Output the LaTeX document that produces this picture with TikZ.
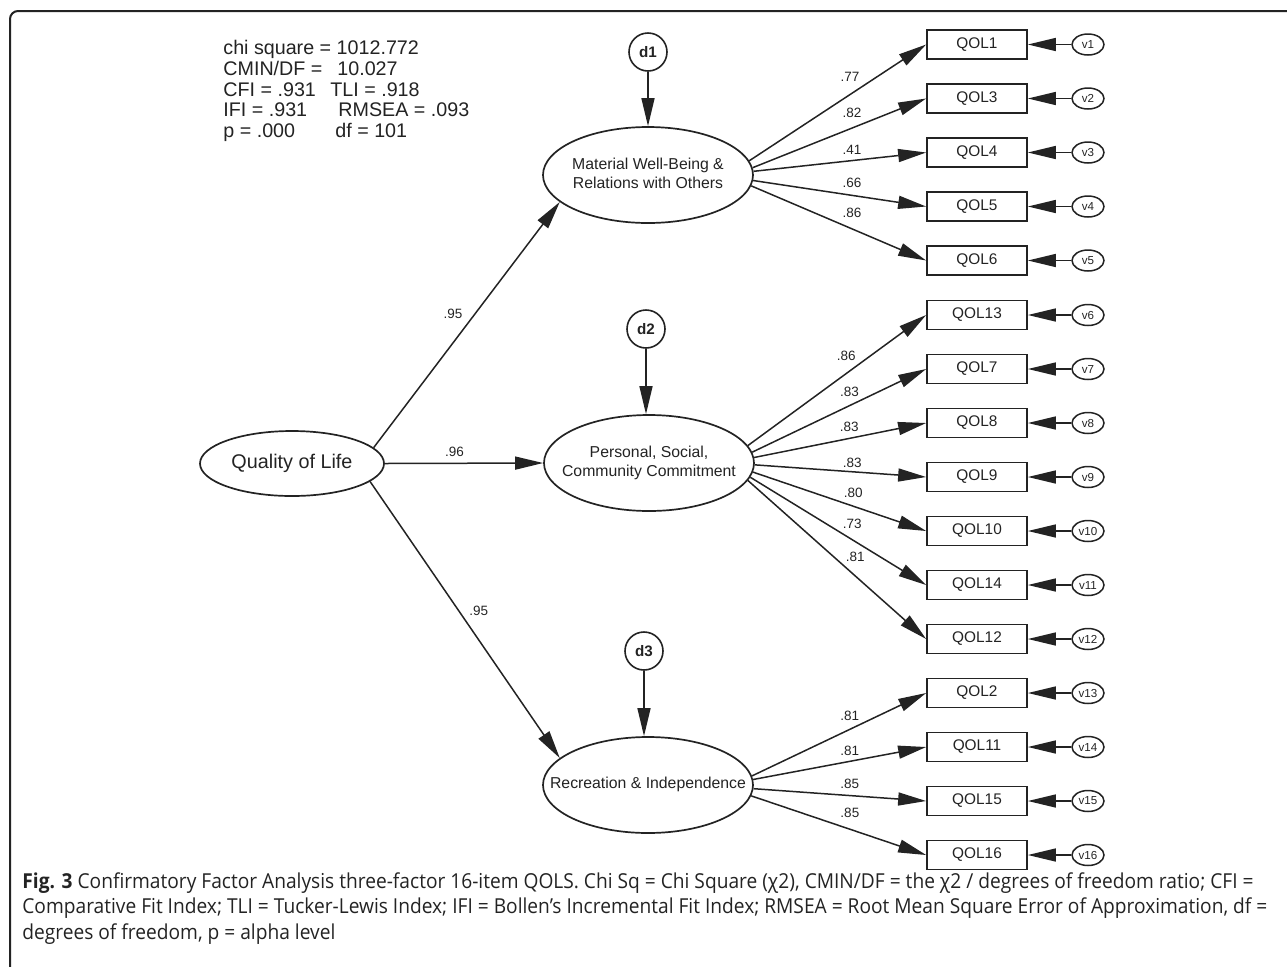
\documentclass[tikz,border=0pt]{standalone}
\usepackage{fontspec}
\setmainfont{Liberation Sans}
\newfontfamily\capfont[FakeStretch=0.93]{Open Sans}
\usetikzlibrary{shapes.geometric,arrows.meta}
\definecolor{ink}{RGB}{35,35,35}
\newcommand\zlines[1]{\makebox[0pt]{\begin{tabular}{@{}c@{}}#1\end{tabular}}}
\begin{document}
\begin{tikzpicture}[x=0.5pt,y=-0.5pt,
  >={Triangle[length=14pt,width=6.5pt]},
  every node/.style={text=ink},
  lat/.style={ellipse, draw=ink, line width=0.85pt, minimum width=105pt, minimum height=48pt, inner sep=0pt, font=\fontsize{7.9}{9.3}\selectfont},
  qolnode/.style={ellipse, draw=ink, line width=0.85pt, minimum width=92pt, minimum height=32.5pt, inner sep=0pt, font=\fontsize{9.9}{11}\selectfont},
  dist/.style={circle, draw=ink, line width=0.8pt, minimum size=19pt, inner sep=0pt, font=\fontsize{7.6}{9}\selectfont\bfseries},
  obs/.style={rectangle, draw=ink, line width=0.85pt, minimum width=50pt, minimum height=14.5pt, inner sep=0pt, font=\fontsize{7.7}{9}\selectfont},
  err/.style={ellipse, draw=ink, line width=0.75pt, minimum width=16pt, minimum height=10.5pt, inner sep=0pt, font=\fontsize{5.8}{7}\selectfont},
  conn/.style={->, draw=ink, line width=0.75pt},
  lbl/.style={font=\fontsize{6.75}{8}\selectfont, inner sep=0pt}
]
\useasboundingbox (0,0) rectangle (1287,966);

% frame
\draw[ink, line width=1pt, rounded corners=4pt] (10,970) -- (10,11) -- (1290,11);

% fit statistics
\node[anchor=north west, align=left, inner sep=0pt, font=\fontsize{9.85}{10.35}\selectfont] (fit) at (223,40)
 {chi square = 1012.772\\
  \makebox[57pt][l]{CMIN/DF =}10.027\\
  \makebox[53.5pt][l]{CFI = .931}TLI = .918\\
  \makebox[57.5pt][l]{IFI = .931}RMSEA = .093\\
  \makebox[56pt][l]{p = .000}df = 101};

% latent variables
\node[qolnode] (qol) at (292,463.5) {Quality of Life};
\node[lat] (e1) at (648,175) {\zlines{Material Well-Being \&\\Relations with Others}};
\node[lat] (e2) at (649,463) {\zlines{Personal, Social,\\Community Commitment}};
\node[lat] (e3) at (648,785) {\zlines{Recreation \& Independence}};

% disturbances
\node[dist] (d1) at (648,52) {d1};
\node[dist] (d2) at (646,329) {d2};
\node[dist] (d3) at (644,651) {d3};
\draw[conn] (d1) -- (d1 |- e1.north);
\draw[conn] (d2) -- (d2 |- e2.north);
\draw[conn] (d3) -- (d3 |- e3.north);

% structural paths
\draw[conn] (qol.11) -- node[lbl, pos=.544, xshift=-11pt] {.95} (e1.197);
\draw[conn] (qol.east) -- node[lbl, pos=.44, yshift=5.75pt] {.96} (e2.west);
\draw[conn] (qol.347) -- node[lbl, pos=.468, xshift=10pt] {.95} (e3.163);

% observed variables and errors
\foreach \i/\q/\y in {1/QOL1/44.5, 2/QOL3/98.5, 3/QOL4/152.5, 4/QOL5/206.5, 5/QOL6/260.5,
  6/QOL13/315, 7/QOL7/369, 8/QOL8/423, 9/QOL9/477, 10/QOL10/531, 11/QOL14/585, 12/QOL12/639,
  13/QOL2/693, 14/QOL11/747, 15/QOL15/801, 16/QOL16/855} {
  \node[obs] (q\i) at (977,\y) {\q};
  \node[err] (v\i) at (1088,\y) {v\i};
  \draw[conn] (v\i) -- (q\i);
}

% measurement paths
\foreach \e/\a/\i/\l/\p/\s in {
  e1/8/1/.77/.57/8.8, e1/4/2/.82/.572/7.5, e1/2/3/.41/.57/5.3, e1/357/4/.66/.571/6.1, e1/354/5/.86/.576/7.9,
  e2/10/6/.86/.552/8.75, e2/6/7/.83/.559/6.85, e2/3/8/.83/.553/5.7, e2/359/9/.83/.569/4.35,
  e2/355/10/.80/.579/6.6, e2/352/11/.73/.58/7.85, e2/350/12/.81/.602/9.4,
  e3/5/13/.81/.562/6.7, e3/3/14/.81/.559/5.15, e3/358/15/.85/.558/5.8, e3/354/16/.85/.564/8.1} {
  \draw[conn] (\e.\a) -- node[lbl, pos=\p, yshift=\s pt] {\l} (q\i.west);
}

% caption
\node[anchor=north west, align=left, inner sep=0pt, font=\capfont\fontsize{10.3}{12.75}\selectfont] (cap) at (22,872)
 {\textbf{Fig. 3} Confirmatory Factor Analysis three-factor 16-item QOLS. Chi Sq = Chi Square (χ2), CMIN/DF = the χ2 / degrees of freedom ratio; CFI =\\
  Comparative Fit Index; TLI = Tucker-Lewis Index; IFI = Bollen’s Incremental Fit Index; RMSEA = Root Mean Square Error of Approximation, df =\\
  degrees of freedom, p = alpha level};
\end{tikzpicture}
\end{document}
